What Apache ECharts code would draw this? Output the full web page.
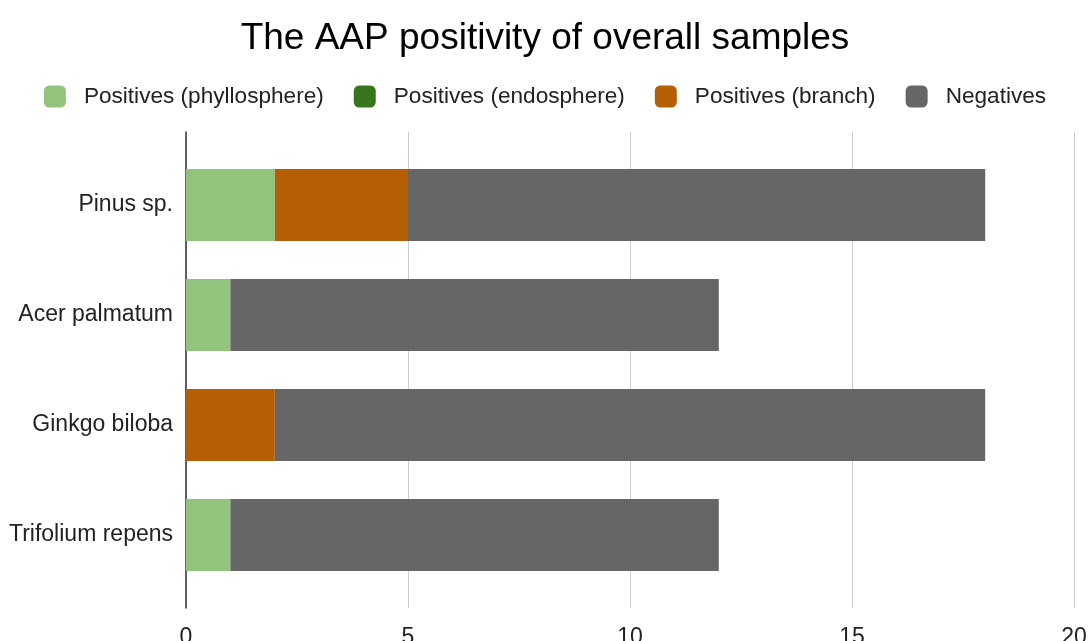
<!DOCTYPE html>
<html>
<head>
<meta charset="utf-8">
<script src="https://cdn.jsdelivr.net/npm/echarts@6/dist/echarts.min.js"></script>
<style>
html,body{margin:0;padding:0;background:#fff;}
#chart{width:1090px;height:641px;}
</style>
</head>
<body>
<div id="chart"></div>
<script>
const categories = ['Pinus sp.', 'Acer palmatum', 'Ginkgo biloba', 'Trifolium repens'];
const phyllosphere = [2, 1, 0, 1];
const endosphere = [0, 0, 0, 0];
const branch = [3, 0, 2, 0];
const negatives = [13, 11, 16, 11];
const xTicks = { min: 0, max: 20, interval: 5 };

const FONT = "'Liberation Sans', Arial, sans-serif";
const chart = echarts.init(document.getElementById('chart'));

function mk(name, data, color) {
  return {
    name: name, type: 'bar', stack: 'total', data: data,
    xAxisIndex: 1, yAxisIndex: 1,
    barWidth: 72,
    itemStyle: { color: color },
    emphasis: { disabled: true }
  };
}

chart.setOption({
  animation: false,
  backgroundColor: '#fff',
  textStyle: { fontFamily: FONT },
  title: {
    text: 'The AAP positivity of overall samples',
    left: 'center', top: 15,
    textStyle: { fontSize: 37, fontWeight: 'normal', color: '#000', fontFamily: FONT }
  },
  legend: {
    top: 80, left: 'center',
    icon: 'roundRect', itemWidth: 22, itemHeight: 22, itemGap: 30,
    textStyle: { fontSize: 22.6, color: '#222', fontFamily: FONT, padding: [0, 0, 0, 13] },
    data: ['Positives (phyllosphere)', 'Positives (endosphere)', 'Positives (branch)', 'Negatives']
  },
  grid: [
    { left: 186, right: 16, top: 132, bottom: 33, outerBoundsMode: 'none', containLabel: false },
    { left: 186, right: 16, top: 150, bottom: 51, outerBoundsMode: 'none', containLabel: false }
  ],
  xAxis: [
    {
      gridIndex: 0, type: 'value', min: xTicks.min, max: xTicks.max, interval: xTicks.interval,
      axisLine: { show: false }, axisTick: { show: false },
      splitLine: { show: true, lineStyle: { color: '#cccccc', width: 1 } },
      axisLabel: { fontSize: 23, color: '#222', margin: 18, fontFamily: FONT }
    },
    {
      gridIndex: 1, type: 'value', min: xTicks.min, max: xTicks.max, interval: xTicks.interval,
      show: false
    }
  ],
  yAxis: [
    {
      gridIndex: 0, type: 'value', min: 0, max: 1,
      axisLine: { show: true, lineStyle: { color: '#333', width: 1.5 } },
      axisTick: { show: false }, axisLabel: { show: false }, splitLine: { show: false }
    },
    {
      gridIndex: 1, type: 'category', inverse: true, data: categories,
      axisLine: { show: false }, axisTick: { show: false },
      axisLabel: { fontSize: 23, color: '#222', margin: 13, fontFamily: FONT }
    }
  ],
  series: [
    mk('Positives (phyllosphere)', phyllosphere, '#93c47d'),
    mk('Positives (endosphere)', endosphere, '#38761d'),
    mk('Positives (branch)', branch, '#b45f06'),
    mk('Negatives', negatives, '#666666')
  ]
});
</script>
</body>
</html>
